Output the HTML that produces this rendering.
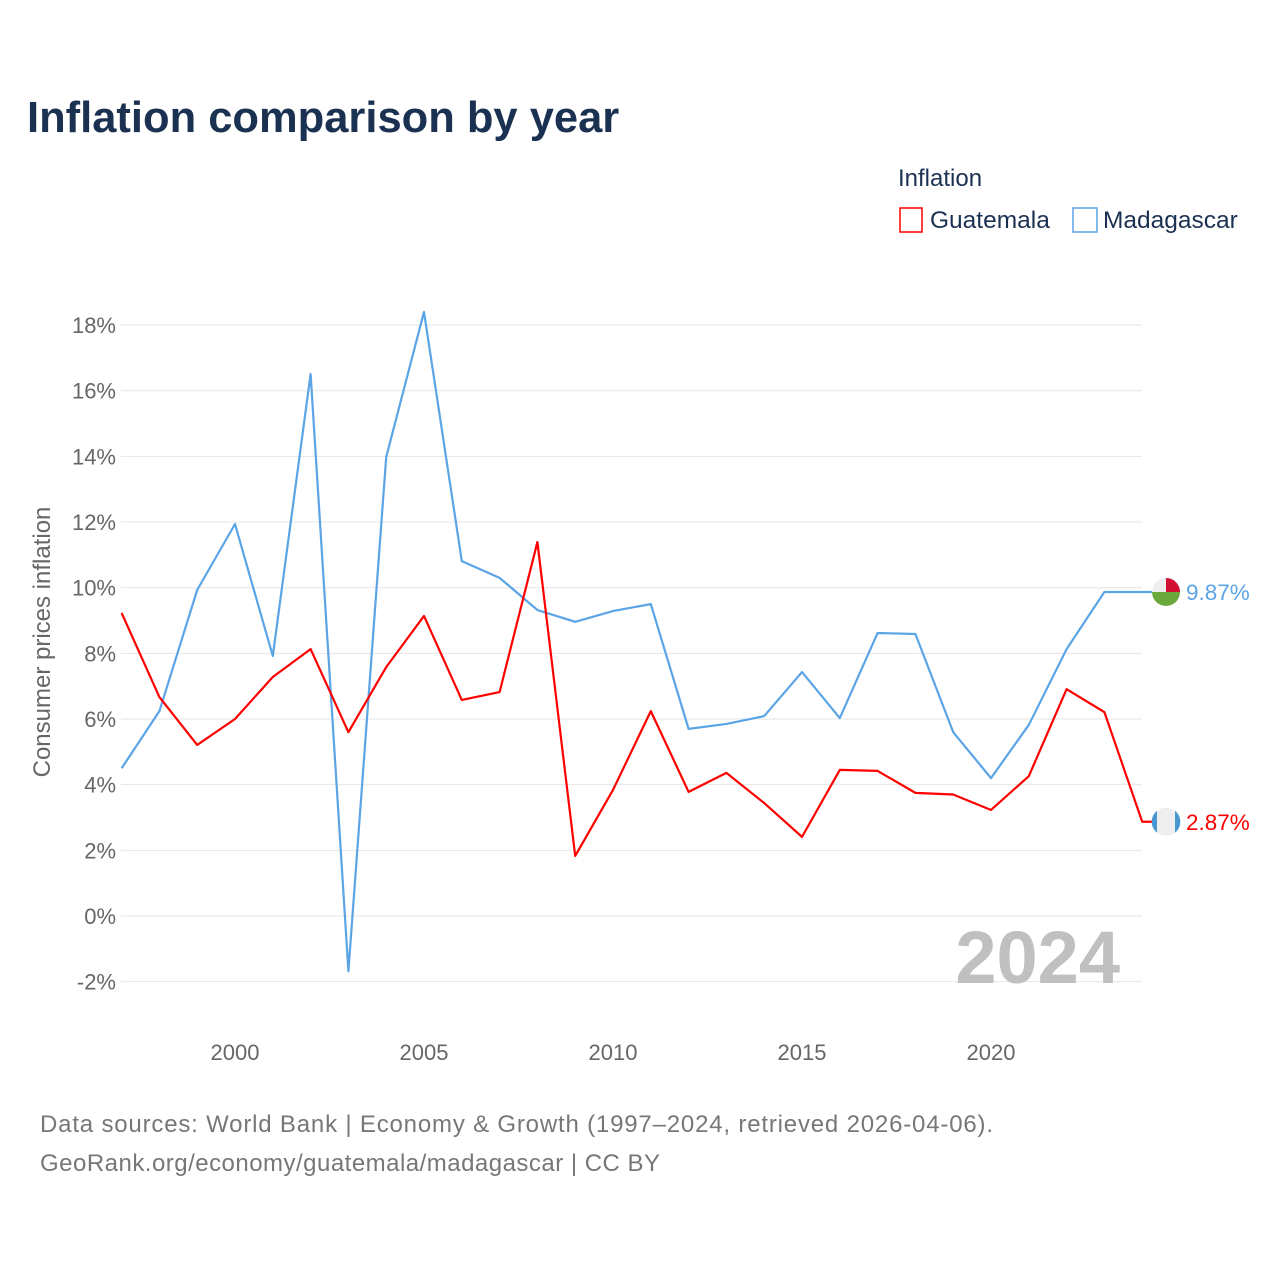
<!DOCTYPE html>
<html><head><meta charset="utf-8"><style>
body{margin:0;background:#fff;font-family:"Liberation Sans",sans-serif;}
</style></head><body>
<svg width="1280" height="1280" xmlns="http://www.w3.org/2000/svg">
<text x="27" y="132" font-size="43.5" font-weight="bold" fill="#1b3152">Inflation comparison by year</text>
<text x="898" y="186" font-size="24" fill="#1b3152">Inflation</text>
<g><rect x="900" y="208" width="22" height="24" fill="none" stroke="#f00" stroke-width="1.5"/><text x="930" y="228" font-size="24.5" fill="#1b3152">Guatemala</text></g>
<g><rect x="1073" y="208" width="24" height="24" fill="none" stroke="#5ba4e6" stroke-width="1.5"/><text x="1103" y="228" font-size="24.5" fill="#1b3152">Madagascar</text></g>
<g id="grid"></g><g id="xt"></g><g id="lines"></g>
<text x="1120" y="983" font-size="74" font-weight="bold" fill="#c0c0c0" text-anchor="end">2024</text>
<text transform="translate(50,642) rotate(-90)" font-size="24" fill="#666" text-anchor="middle">Consumer prices inflation</text>
<text x="40" y="1132" font-size="24" fill="#777" textLength="953">Data sources: World Bank | Economy &amp; Growth (1997–2024, retrieved 2026-04-06).</text>
<text x="40" y="1171" font-size="24" fill="#777" textLength="620">GeoRank.org/economy/guatemala/madagascar | CC BY</text>
</svg>
<script>
const years=[1997,1998,1999,2000,2001,2002,2003,2004,2005,2006,2007,2008,2009,2010,2011,2012,2013,2014,2015,2016,2017,2018,2019,2020,2021,2022,2023,2024];
const guatemala=[9.23,6.67,5.21,6.0,7.28,8.13,5.6,7.58,9.14,6.58,6.82,11.39,1.83,3.84,6.24,3.78,4.36,3.44,2.41,4.45,4.42,3.75,3.7,3.23,4.26,6.91,6.21,2.87];
const madagascar=[4.5,6.24,9.93,11.94,7.92,16.51,-1.68,13.98,18.4,10.81,10.3,9.32,8.96,9.29,9.5,5.7,5.85,6.09,7.43,6.03,8.62,8.59,5.6,4.2,5.82,8.13,9.87,9.87];
const yTicks=[-2,0,2,4,6,8,10,12,14,16,18];
const xTicks=[2000,2005,2010,2015,2020];
const NS="http://www.w3.org/2000/svg";
const X=v=>121.6+(v-1997)*37.8, Y=v=>916-v*32.83;
function mk(t,a,p){const e=document.createElementNS(NS,t);for(const k in a)e.setAttribute(k,a[k]);p.appendChild(e);return e;}
const g=document.getElementById('grid'),xt=document.getElementById('xt'),L=document.getElementById('lines');
yTicks.forEach(v=>{const l=mk('line',{x1:121,x2:1142,y1:Y(v),y2:Y(v),stroke:'#e6e6e6'},g);


const t=mk('text',{x:116,y:Y(v)+8,'font-size':22,fill:'#666','text-anchor':'end'},g);t.textContent=v+'%';

});
xTicks.forEach(v=>{const t=mk('text',{x:X(v),y:1060,'font-size':22,fill:'#666','text-anchor':'middle'},xt);t.textContent=v;

});
function series(d,c,name,lab){const pts=years.map((y,i)=>X(y)+','+Y(d[i]));const last=d[d.length-1];
pts.push((X(2024)+10)+','+Y(last));
const p=mk('polyline',{points:pts.join(' '),fill:'none',stroke:c,'stroke-width':2.2,'stroke-linejoin':'round'},L);


const ci=mk('circle',{cx:1166,cy:Y(last),r:14,fill:'#eee'},L);


if(name==='madagascar'){mk('path',{d:`M1166 ${Y(last)-14} A14 14 0 0 1 1180 ${Y(last)} L1166 ${Y(last)}Z`,fill:'#d21034'},L);mk('path',{d:`M1180 ${Y(last)} A14 14 0 0 1 1166 ${Y(last)+14} L1166 ${Y(last)}Z`,fill:'#6ca93c'},L);mk('path',{d:`M1166 ${Y(last)+14} A14 14 0 0 1 1152 ${Y(last)} L1166 ${Y(last)}Z`,fill:'#6ca93c'},L);}
else{mk('path',{d:`M1157 ${Y(last)-11} A14 14 0 0 0 1157 ${Y(last)+11}Z`,fill:'#4997d0'},L);mk('path',{d:`M1175 ${Y(last)-11} A14 14 0 0 1 1175 ${Y(last)+11}Z`,fill:'#4997d0'},L);}
const t=mk('text',{x:1186,y:Y(last)+8,'font-size':22.5,fill:c},L);t.textContent=lab;

}
series(madagascar,'#5ba4e6','madagascar',madagascar[madagascar.length-1].toFixed(2)+'%');
series(guatemala,'#f00','guatemala',guatemala[guatemala.length-1].toFixed(2)+'%');
</script>
</body></html>
